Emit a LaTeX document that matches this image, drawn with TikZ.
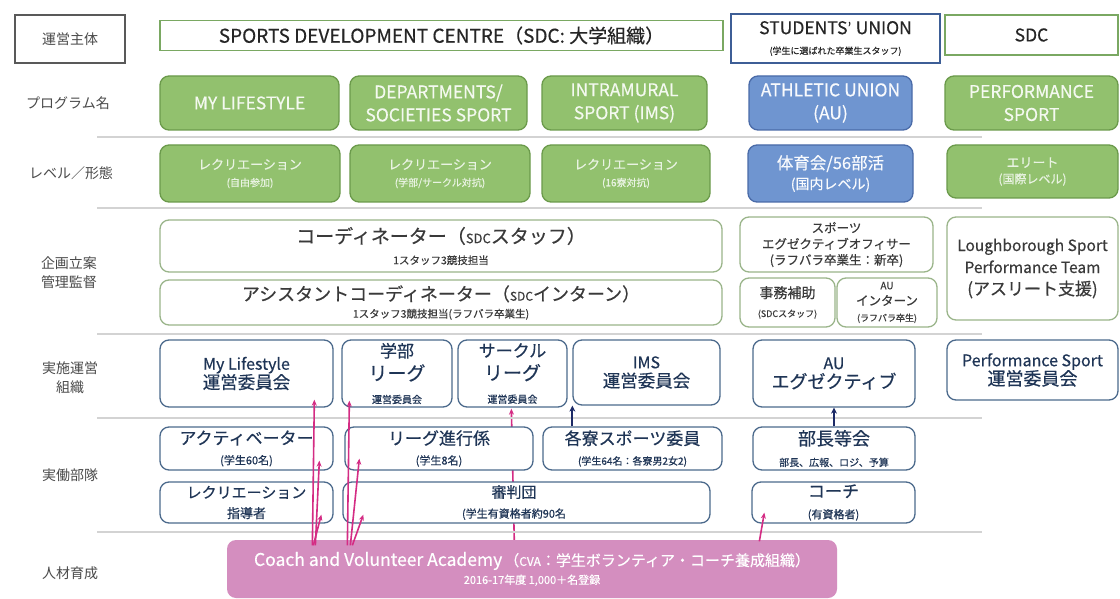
\documentclass[tikz,border=0pt]{standalone}
\usepackage{fontspec}
\setmainfont{Noto Sans CJK JP}[FakeBold=0.45]
\newfontfamily\labfont{Noto Sans CJK JP}
\newfontfamily\lat{Carlito}
\usetikzlibrary{arrows.meta,backgrounds}
\newcommand\fz[2]{\fontsize{#1}{#2}\selectfont}
\definecolor{gfill}{HTML}{92C16E}
\definecolor{gdraw}{HTML}{6B9A4B}
\definecolor{bfill}{HTML}{6F95D0}
\definecolor{bdraw}{HTML}{4A6BA8}
\definecolor{tgdraw}{HTML}{7AA862}
\definecolor{tbdraw}{HTML}{3D5E96}
\definecolor{pdraw}{HTML}{9AB58A}
\definecolor{ndraw}{HTML}{4C6A8C}
\definecolor{ntext}{HTML}{1F3556}
\definecolor{ptext}{HTML}{3A3A3A}
\definecolor{pinkfill}{HTML}{D48EBF}
\definecolor{pinkarr}{HTML}{D42C84}
\definecolor{navyarr}{HTML}{1C2A66}
\definecolor{sepcol}{HTML}{D3D3D3}
\definecolor{labtext}{HTML}{4A4A4A}
\begin{document}
\begin{tikzpicture}[x=1pt,y=-1pt,
  base/.style={rounded corners=9pt, inner sep=0pt, align=center, line width=1.3pt},
  gbox/.style={base, fill=gfill, draw=gdraw, text=white!90!gfill},
  lbox/.style={base, fill=gfill, draw=gdraw, text=white!80!gfill},
  bbox/.style={base, fill=bfill, draw=bdraw, text=white!95!bfill},
  pbox/.style={base, fill=white, draw=pdraw, text=ptext},
  nbox/.style={base, fill=white, draw=ndraw, text=ntext},
  cvabox/.style={base, fill=pinkfill, draw=none, text=white},
  topg/.style={inner sep=0pt, align=center, fill=white, draw=tgdraw, line width=1.2pt, text=black!85},
  topb/.style={inner sep=0pt, align=center, fill=white, draw=tbdraw, line width=1.4pt, text=black!85},
  labbox/.style={inner sep=0pt, align=center, draw=black!65, line width=1.2pt, text=labtext, font=\labfont\fz{14}{19}},
  lab/.style={inner sep=0pt, align=center, text=labtext, font=\labfont\fz{14}{19}},
  txt/.style={inner sep=0pt, align=center, text=ntext},
  sepline/.style={draw=sepcol, line width=2pt},
  parr/.style={draw=pinkarr, line width=1.6pt, -{Stealth[length=6pt,width=5pt]}},
  barr/.style={draw=navyarr, line width=2.2pt, -{Stealth[length=6pt,width=6pt]}}]
\useasboundingbox (0,0) rectangle (1120,599);

% separators
\foreach \yy in {137,208,334,418,532} \draw[sepline] (97,\yy) -- (982,\yy);

% left labels
\node[labbox, minimum width=110, minimum height=48] (L1) at (70,39) {運営主体};
\node[lab] (L2) at (68,103) {プログラム名};
\node[lab] (L3) at (71,173) {レベル／形態};
\node[lab] (L4) at (69,273) {企画立案\\管理監督};
\node[lab] (L5) at (70,378) {実施運営\\組織};
\node[lab] (L6) at (70,475) {実働部隊};
\node[lab] (L7) at (70,573) {人材育成};

% row 1
\node[topg, minimum width=563, minimum height=30] (sdc) at (441.5,35.5) {\fz{19}{22}SPORTS DEVELOPMENT CENTRE（SDC: 大学組織）};
\node[topb, minimum width=209, minimum height=49, font=\fz{17.5}{20}] (su) at (835.5,38.5) {STUDENTS{\lat ’} UNION\\{\fz{9}{11}(学生に選ばれた卒業生スタッフ)}};
\node[topg, minimum width=173, minimum height=40] (sdc2) at (1031.5,35) {\fz{17.5}{20}SDC};

% row 2 programs
\node[gbox, minimum width=179, minimum height=54, font=\fz{17.5}{23}] (p1) at (249.5,103) {MY LIFESTYLE};
\node[gbox, minimum width=177, minimum height=54, font=\fz{17.5}{23}] (p2) at (438.5,103) {DEPARTMENTS/\\SOCIETIES SPORT};
\node[gbox, minimum width=165, minimum height=54, font=\fz{17.5}{23}] (p3) at (624.5,103) {INTRAMURAL\\SPORT (IMS)};
\node[bbox, minimum width=163, minimum height=54, font=\fz{17.5}{23}] (p4) at (830.5,103) {ATHLETIC UNION\\(AU)};
\node[gbox, minimum width=173, minimum height=54, font=\fz{17.5}{23}] (p5) at (1031.5,103) {PERFORMANCE\\SPORT};

% row 3 levels
\node[lbox, minimum width=180, minimum height=57, font=\fz{13}{17}] (l1) at (250,173.5) {レクリエーション\\{\fz{10}{12}(自由参加)}};
\node[lbox, minimum width=180, minimum height=57, font=\fz{13}{17}] (l2) at (440,173.5) {レクリエーション\\{\fz{10}{12}(学部/サークル対抗)}};
\node[lbox, minimum width=168, minimum height=57, font=\fz{13}{17}] (l3) at (626,173.5) {レクリエーション\\{\fz{10}{12}(16寮対抗)}};
\node[bbox, minimum width=165, minimum height=57, font=\fz{16.5}{20}] (l4) at (830.5,173.5) {体育会/56部活\\{\fz{14}{16}(国内レベル)}};
\node[lbox, minimum width=171, minimum height=53, font=\fz{13}{16}] (l5) at (1032.5,171.5) {エリート\\{\fz{12}{14}(国際レベル)}};

% row 4 planning
\node[pbox, minimum width=562, minimum height=52, font=\fz{19}{21}] (coord) at (441,246) {コーディネーター（{\fz{13}{15}SDC}スタッフ）\\{\fz{10.5}{12}1スタッフ3競技担当}};
\node[pbox, minimum width=562, minimum height=45, font=\fz{18}{17}] (acoord) at (441,302.5) {アシスタントコーディネーター（{\fz{12}{14}SDC}インターン）\\{\fz{10.5}{12}1スタッフ3競技担当(ラフバラ卒業生)}};
\node[pbox, minimum width=193, minimum height=55, font=\fz{12.5}{16}] (seo) at (836.5,244.5) {スポーツ\\エグゼクティブオフィサー\\(ラフバラ卒業生：新卒)};
\node[pbox, minimum width=95, minimum height=49, font=\fz{14}{19}] (jimu) at (787.5,302.5) {事務補助\\{\fz{9}{11}(SDCスタッフ)}};
\node[pbox, minimum width=100, minimum height=49, font=\fz{12.5}{16}] (auint) at (887,302.5) {{\fz{10}{12}AU}\\インターン\\{\fz{9}{11}(ラフバラ卒生)}};
\node[pbox, minimum width=171, minimum height=103, font=\fz{15.5}{22}] (lspt) at (1032.5,268.5) {Loughborough Sport\\Performance Team\\{\fz{17}{20}(アスリート支援)}};

% row 5
\node[nbox, minimum width=173, minimum height=67, font=\fz{16}{19}] (r5a) at (246.5,373.5) {My Lifestyle\\{\fz{17.5}{20}運営委員会}};
\node[nbox, minimum width=110, minimum height=67, font=\fz{17}{23}] (r5b) at (397,373.5) {学部\\{\fz{19}{22}リーグ}\\{\fz{10}{12}運営委員会}};
\node[nbox, minimum width=109, minimum height=67, font=\fz{17}{23}] (r5c) at (512.5,373.5) {サークル\\{\fz{19}{22}リーグ}\\{\fz{10}{12}運営委員会}};
\node[nbox, minimum width=147, minimum height=65, font=\fz{16}{19}] (r5d) at (646.5,372.5) {IMS\\{\fz{17.5}{20}運営委員会}};
\node[nbox, minimum width=162, minimum height=67, font=\fz{16}{19}] (r5e) at (834,373.5) {AU\\{\fz{18}{20}エグゼクティブ}};
\node[nbox, minimum width=171, minimum height=60, font=\fz{16}{19}] (r5f) at (1032.5,370) {Performance Sport\\{\fz{18}{20}運営委員会}};

% row 6 upper
\node[nbox, minimum width=173, minimum height=43, font=\fz{17}{20}] (r6a) at (246.5,448.5) {アクティベーター\\{\fz{11}{13}(学生60名)}};
\node[nbox, minimum width=188, minimum height=43, font=\fz{17}{20}] (r6b) at (439,448.5) {リーグ進行係\\{\fz{11}{13}(学生8名)}};
\node[nbox, minimum width=179, minimum height=43, font=\fz{17}{20}] (r6c) at (632.5,448.5) {各寮スポーツ委員\\{\fz{10}{12}(学生64名：各寮男2女2)}};
\node[nbox, minimum width=162, minimum height=43, font=\fz{18}{21}] (r6d) at (834,448.5) {部長等会\\{\fz{10}{12}部長、広報、ロジ、予算}};

% row 6 lower
\node[nbox, minimum width=173, minimum height=41, font=\fz{15}{20}] (r7a) at (246.5,502.5) {レクリエーション\\{\fz{13}{15}指導者}};
\node[nbox, minimum width=367, minimum height=41] (r7b) at (526.5,502.5) {};
\node[txt, font=\fz{15}{20}] (r7bt) at (514,502.5) {審判団\\{\fz{11}{13}(学生有資格者約90名}};
\node[nbox, minimum width=163, minimum height=41, font=\fz{17}{21}] (r7c) at (833.5,502.5) {コーチ\\{\fz{11}{13}(有資格者)}};

% CVA
\node[cvabox, minimum width=610, minimum height=58, font=\fz{17.5}{18}] (cva) at (532,569) {Coach and Volunteer Academy\hspace{2pt}{\fz{15}{17}（{\fz{12}{14}CVA}：学生ボランティア・コーチ養成組織）}\\{\fz{11}{13}2016-17年度 1,000＋名登録}};

% background: white page and the pink arrow hidden behind boxes
\begin{pgfonlayer}{background}
\fill[white] (0,0) rectangle (1120,599);
\draw[parr] ([xshift=288pt,yshift=-4pt]cva.north west) -- ([xshift=54pt,yshift=-1pt]r5c.south west);
\end{pgfonlayer}

% pink arrows on top
\draw[parr] ([xshift=86pt,yshift=-6pt]cva.north west) -- ([xshift=155pt,yshift=8pt]r5a.south west);
\draw[parr] ([xshift=89pt,yshift=-6pt]cva.north west) -- ([xshift=160pt,yshift=10pt]r6a.south west);
\draw[parr] ([xshift=87pt,yshift=-6pt]cva.north west) -- ([xshift=162pt,yshift=9pt]r7a.south west);
\draw[parr] ([xshift=121pt,yshift=-6pt]cva.north west) -- ([xshift=8pt,yshift=7pt]r5b.south west);
\draw[parr] ([xshift=124pt,yshift=-6pt]cva.north west) -- ([xshift=15pt,yshift=12pt]r6b.south west);
\draw[parr] ([xshift=126pt,yshift=-6pt]cva.north west) -- ([xshift=21pt,yshift=9pt]r7b.south west);
\draw[parr] ([xshift=533pt,yshift=-2pt]cva.north west) -- ([xshift=13pt,yshift=11pt]r7c.south west);

% navy arrows
\draw[barr] ([xshift=30pt]r6c.north west) -- ([xshift=30pt]r6c.north west |- r5d.south);
\draw[barr] (r6d.north) -- (r6d.north |- r5e.south);
\end{tikzpicture}
\end{document}
